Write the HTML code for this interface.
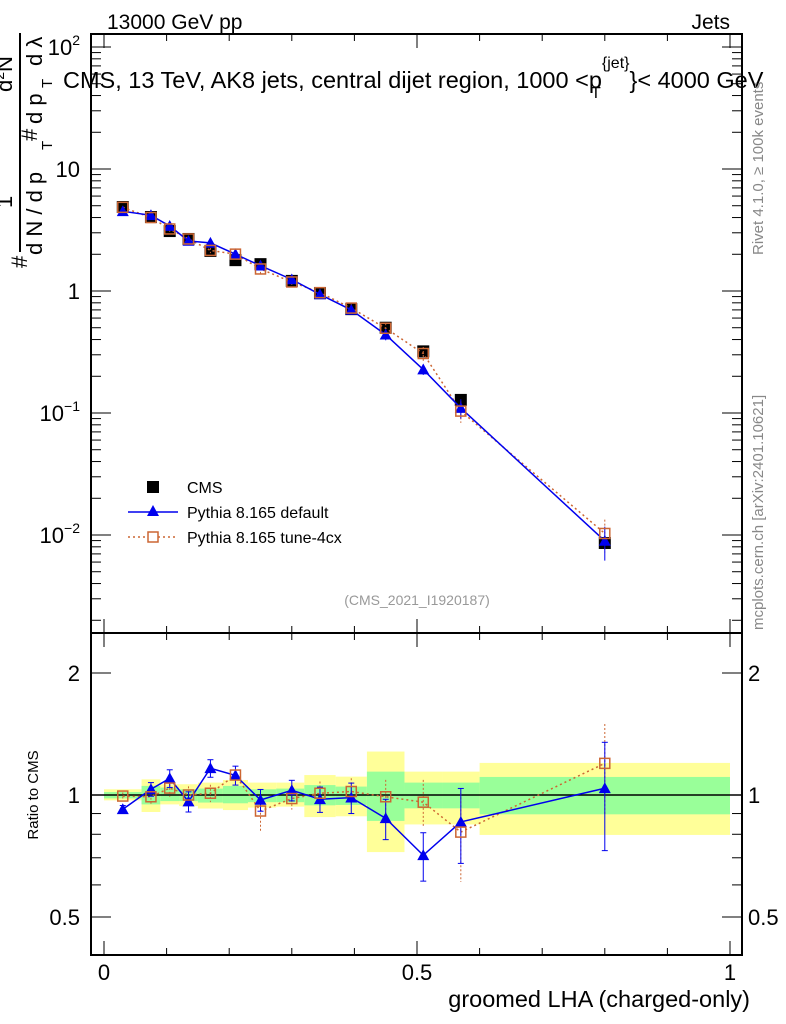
<!DOCTYPE html>
<html><head><meta charset="utf-8"><style>
body{margin:0;background:#fff;}
svg{display:block;font-family:"Liberation Sans",Arial,sans-serif;}
</style></head><body>
<svg id="c" width="786" height="1024"></svg>
<script>
const xs=[0.03,0.075,0.105,0.135,0.17,0.21,0.25,0.30,0.345,0.395,0.45,0.51,0.57,0.80];
const edges=[0,0.06,0.09,0.12,0.15,0.19,0.23,0.275,0.32,0.37,0.42,0.48,0.54,0.60,1.0];
const cms=[4.88,4.04,3.1,2.67,2.13,1.79,1.66,1.21,0.96,0.71,0.5,0.32,0.128,0.0086];
const rDef=[0.922,1.033,1.099,0.963,1.164,1.118,0.972,1.027,0.976,0.985,0.876,0.71,0.858,1.039];
const eDef=[0.02,0.04,0.055,0.055,0.058,0.06,0.06,0.06,0.07,0.085,0.1,0.097,0.18,0.31];
const rTune=[0.994,0.99,1.04,1.0,1.01,1.12,0.913,0.98,1.01,1.02,0.99,0.96,0.81,1.197];
const eTune=[0.02,0.04,0.05,0.05,0.05,0.06,0.1,0.06,0.07,0.08,0.1,0.13,0.2,0.3];
const yelHi=[1.033,1.093,1.063,1.063,1.073,1.089,1.073,1.073,1.12,1.11,1.28,1.142,1.142,1.2];
const yelLo=[0.97,0.908,0.948,0.939,0.926,0.918,0.931,0.936,0.882,0.886,0.723,0.846,0.846,0.797];
const grnHi=[1.017,1.053,1.043,1.033,1.037,1.053,1.033,1.037,1.058,1.049,1.142,1.073,1.073,1.108];
const grnLo=[0.981,0.948,0.966,0.966,0.958,0.954,0.96,0.96,0.943,0.945,0.863,0.927,0.927,0.896];
const xTicks=[0,0.5,1], xTickLabels=["0","0.5","1"];

const S=document.getElementById('c'),NS='http://www.w3.org/2000/svg';
function el(t,a,p){const e=document.createElementNS(NS,t);for(const k in a)e.setAttribute(k,a[k]);(p||S).appendChild(e);return e;}
const L=91,R=742,T=34,M=633,B=955;
const X=v=>104+v*626;
const Y=v=>291-Math.log10(v)*122;
const RY=v=>795-Math.log2(v)*122;

for(let i=0;i<xs.length;i++){
 let b=el('rect',{x:X(edges[i]),y:RY(yelHi[i]),width:X(edges[i+1])-X(edges[i]),height:RY(yelLo[i])-RY(yelHi[i]),fill:'#ffff99'});
 
 let g=el('rect',{x:X(edges[i]),y:RY(grnHi[i]),width:X(edges[i+1])-X(edges[i]),height:RY(grnLo[i])-RY(grnHi[i]),fill:'#99ff99'});
 
}
el('line',{x1:L,x2:R,y1:RY(1),y2:RY(1),stroke:'#000','stroke-width':1.5});

for(const [t,b,n] of [[T,M,'main-frame'],[M,B,'ratio-frame']]){
 const f=el('rect',{x:L,y:t,width:R-L,height:b-t,fill:'none',stroke:'#000','stroke-width':2});
 
}
for(const [t,b] of [[T,M],[M,B]]){
 for(let v=0;v<=1.0001;v+=0.1){const maj=Math.abs(v*2-Math.round(v*2))<1e-6;const h=maj?14:7;
  el('line',{x1:X(v),x2:X(v),y1:b,y2:b-h,stroke:'#000'});el('line',{x1:X(v),x2:X(v),y1:t,y2:t+h,stroke:'#000'});}
}
xTicks.forEach((v,i)=>{const t=el('text',{x:X(v),y:980,'font-size':22,'text-anchor':'middle'});t.textContent=xTickLabels[i];
 });
for(let d=-3;d<=2;d++)for(let m=1;m<10;m++){const v=m*Math.pow(10,d),y=Y(v);if(y<T||y>M)continue;const h=m==1?20:10;
 el('line',{x1:L,x2:L+h,y1:y,y2:y,stroke:'#000'});el('line',{x1:R,x2:R-h,y1:y,y2:y,stroke:'#000'});}
const ylab=[[100,'2'],[10,''],[1,''],[0.1,'−1'],[0.01,'−2']];
ylab.forEach(([v,e])=>{const t=el('text',{x:80,y:Y(v)+8,'font-size':22,'text-anchor':'end'});
 
 if(v==1){t.textContent='1';return;}
 const a=el('tspan',{},t);a.textContent='10';
 if(e){const s=el('tspan',{'font-size':14,dy:-10},t);s.textContent=e;}});
[0.5,0.6,0.7,0.8,0.9,1,2].forEach(v=>{const y=RY(v),h=(v==0.5||v==1||v==2)?20:10;
 el('line',{x1:L,x2:L+h,y1:y,y2:y,stroke:'#000'});el('line',{x1:R,x2:R-h,y1:y,y2:y,stroke:'#000'});});
[[2,'2'],[1,'1'],[0.5,'0.5']].forEach(([v,s])=>{for(const [x,a] of [[80,'end'],[748,'start']]){
 const t=el('text',{x:x,y:RY(v)+8,'font-size':22,'text-anchor':a});t.textContent=s;
 }});

function tri(x,y,s,c){return el('polygon',{points:`${x},${y-s} ${x-s},${y+s*0.8} ${x+s},${y+s*0.8}`,fill:c});}
cms.forEach((v,i)=>{const r=el('rect',{x:X(xs[i])-6,y:Y(v)-6,width:12,height:12,fill:'#000'});
 });
let pd='',pt='';
xs.forEach((x,i)=>{pd+=(i?'L':'M')+X(x)+','+Y(cms[i]*rDef[i]);pt+=(i?'L':'M')+X(x)+','+Y(cms[i]*rTune[i]);});
el('path',{d:pt,fill:'none',stroke:'#cc6633','stroke-width':1.5,'stroke-dasharray':'2,3'});
el('path',{d:pd,fill:'none',stroke:'#0000ee','stroke-width':1.5});
xs.forEach((x,i)=>{
 const vt=cms[i]*rTune[i],vd=cms[i]*rDef[i];
 el('line',{x1:X(x),x2:X(x),y1:Y(vt*(1+eTune[i])),y2:Y(vt*(1-eTune[i])),stroke:'#cc6633','stroke-dasharray':'2,2'});
 el('line',{x1:X(x),x2:X(x),y1:Y(vd*(1+eDef[i])),y2:Y(vd*(1-eDef[i])),stroke:'#0000ee'});
 const q=tri(X(x),Y(vd),6,'#0000ee');
 const s=el('rect',{x:X(x)-5,y:Y(vt)-5,width:10,height:10,fill:'none',stroke:'#cc6633','stroke-width':1.5});
 
});
let rd='',rt='';
xs.forEach((x,i)=>{rd+=(i?'L':'M')+X(x)+','+RY(rDef[i]);rt+=(i?'L':'M')+X(x)+','+RY(rTune[i]);});
el('path',{d:rt,fill:'none',stroke:'#cc6633','stroke-width':1.5,'stroke-dasharray':'2,3'});
el('path',{d:rd,fill:'none',stroke:'#0000ee','stroke-width':1.5});
xs.forEach((x,i)=>{
 el('line',{x1:X(x),x2:X(x),y1:RY(rTune[i]+eTune[i]),y2:RY(rTune[i]-eTune[i]),stroke:'#cc6633','stroke-dasharray':'2,2'});
 el('line',{x1:X(x),x2:X(x),y1:RY(rDef[i]+eDef[i]),y2:RY(rDef[i]-eDef[i]),stroke:'#0000ee'});
 for(const v of [rDef[i]+eDef[i],rDef[i]-eDef[i]])el('line',{x1:X(x)-3,x2:X(x)+3,y1:RY(v),y2:RY(v),stroke:'#0000ee'});
 const q=tri(X(x),RY(rDef[i]),6,'#0000ee');
 const s=el('rect',{x:X(x)-5,y:RY(rTune[i])-5,width:10,height:10,fill:'none',stroke:'#cc6633','stroke-width':1.5});
 
});
</script>
<svg width="786" height="1024" style="position:absolute;left:0;top:0;font-family:'Liberation Sans',Arial,sans-serif">
 <text x="107" y="29" font-size="21">13000 GeV pp</text>
 <text x="730" y="29" font-size="21" text-anchor="end">Jets</text>
 <text x="63" y="88" font-size="23.5">CMS, 13 TeV, AK8 jets, central dijet region, 1000 &lt;p<tspan font-size="16" dy="-20">{jet}</tspan><tspan dy="20">}&lt; 4000 GeV</tspan></text>
 <text x="591" y="98" font-size="16">T</text>
 <g transform="rotate(-90)" font-size="22">
  <text x="-268" y="27">#</text>
  <line x1="-252" x2="-33" y1="20" y2="20" stroke="#000" stroke-width="2"/>
  <text x="-208" y="12">1</text>
  <text x="-255" y="42">d N / d p</text>
  <text x="-150" y="52" font-size="15">T</text>
  <text x="-141" y="37">#</text>
  <text x="-124" y="42">d p</text>
  <text x="-88" y="52" font-size="15">T</text>
  <text x="-92" y="12">d<tspan font-size="14" dy="-8">2</tspan><tspan dy="8">N</tspan></text>
  <text x="-66" y="42">d λ</text>
 </g>
 <text transform="translate(763,255) rotate(-90)" font-size="15" fill="#888">Rivet 4.1.0, ≥ 100k events</text>
 <text transform="translate(763,630) rotate(-90)" font-size="15" fill="#888">mcplots.cern.ch [arXiv:2401.10621]</text>
 <text x="417" y="605" font-size="14" fill="#999" text-anchor="middle">(CMS_2021_I1920187)</text>
 <g font-size="16">
  <rect x="147" y="481" width="12" height="12" fill="#000"/>
  <text x="187" y="493">CMS</text>
  <line x1="128" x2="178" y1="512" y2="512" stroke="#0000ee" stroke-width="1.5"/>
  <polygon points="153,505 147,516 159,516" fill="#0000ee"/>
  <text x="187" y="518">Pythia 8.165 default</text>
  <line x1="128" x2="178" y1="537" y2="537" stroke="#cc6633" stroke-width="1.5" stroke-dasharray="2,3"/>
  <rect x="148" y="532" width="10" height="10" fill="#fff" stroke="#cc6633" stroke-width="1.5"/>
  <text x="187" y="543">Pythia 8.165 tune-4cx</text>
 </g>
 <text transform="translate(38,795) rotate(-90)" font-size="15" text-anchor="middle">Ratio to CMS</text>
 <text x="750" y="1007" font-size="23.5" text-anchor="end">groomed LHA (charged-only)</text>
</svg>
</body></html>
